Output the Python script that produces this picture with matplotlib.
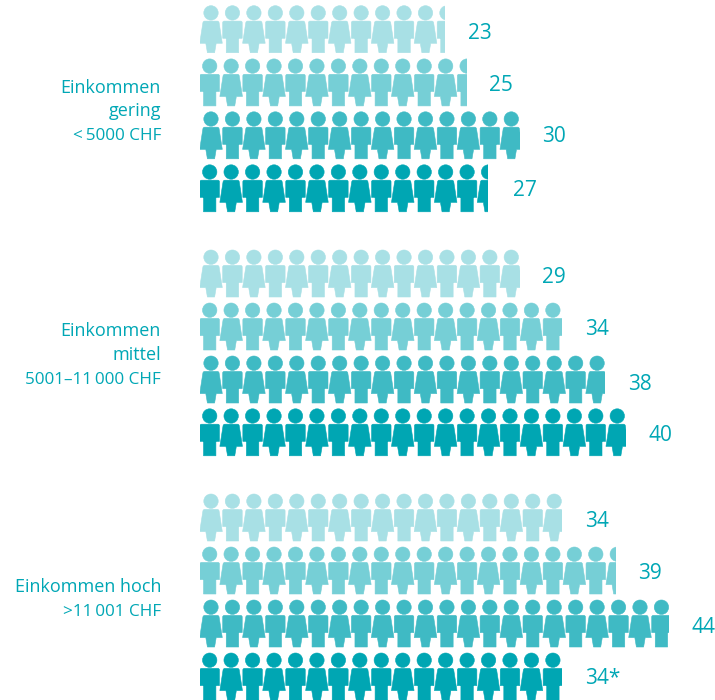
import math
import matplotlib
matplotlib.use("Agg")
import matplotlib.pyplot as plt
import numpy as np
from matplotlib.patches import PathPatch, Rectangle
from matplotlib.path import Path

# row values, 4 rows per income group. one icon = 2
group_labels = [
    ["Einkommen", "gering", "<\u20095000 CHF"],
    ["Einkommen", "mittel", "5001\u201311\u2009000 CHF"],
    ["Einkommen hoch", ">11\u2009001 CHF"],
]
value_labels = ["23", "25", "30", "27", "29", "34", "38", "40", "34", "39", "44", "34*"]
# length the row is really drawn to (the 29 row is drawn as long as a 30 row)
drawn_values = [23, 25, 30, 27, 30, 34, 38, 40, 34, 39, 44, 34]

# layout in pixels of the 715x700 picture
row_tops = [5.7, 58.9, 111.8, 164.8, 250, 303, 356, 408.8, 494, 547, 600, 653]
label_y = [31, 83.3, 134, 188.7, 275, 327.7, 382, 433, 519, 571.7, 625, 676.7]
group_baselines = [[92.7, 116.5, 139.5], [336, 360, 384], [592.3, 615.7]]
row_colors = ["#A8E0E5", "#76CFD6", "#3FBAC4", "#00A6B3"]
text_color = "#00A7B5"

PX_PER_UNIT = 10.66
LEFT = 200
PITCH = 21.45

plt.rcParams['font.family'] = ['Open Sans', 'DejaVu Sans']


def body(x_w, y0, y1, r=1.6):
    return Path(
        [(-x_w + r, y0), (x_w - r, y0), (x_w, y0), (x_w, y0 + r), (x_w, y1), (-x_w, y1),
         (-x_w, y0 + r), (-x_w, y0), (-x_w + r, y0), (-x_w + r, y0)],
        [Path.MOVETO, Path.LINETO, Path.CURVE3, Path.CURVE3, Path.LINETO, Path.LINETO,
         Path.LINETO, Path.CURVE3, Path.CURVE3, Path.CLOSEPOLY])


def head():
    c = Path.unit_circle()
    return Path(c.vertices * 7.2 + np.array([0, 7.2]), c.codes)


man_path = Path.make_compound_path(
    head(),
    body(9.75, 15.4, 32.6),
    Path([(-6.2, 32), (6.2, 32), (6.2, 47), (-6.2, 47), (-6.2, 32)],
         [Path.MOVETO, Path.LINETO, Path.LINETO, Path.LINETO, Path.CLOSEPOLY]),
)
woman_path = Path.make_compound_path(
    head(),
    Path([(-6.4, 15.4), (6.4, 15.4), (7.8, 15.4), (8.1, 17), (11.3, 37.6), (5.2, 37.6), (3.6, 47),
          (-3.6, 47), (-5.2, 37.6), (-11.3, 37.6), (-8.1, 17), (-7.8, 15.4), (-6.4, 15.4), (-6.4, 15.4)],
         [Path.MOVETO, Path.LINETO, Path.CURVE3, Path.CURVE3, Path.LINETO, Path.LINETO, Path.LINETO,
          Path.LINETO, Path.LINETO, Path.LINETO, Path.LINETO, Path.CURVE3, Path.CURVE3, Path.CLOSEPOLY]),
)


def place(shape, x, y):
    v = shape.vertices.copy()
    v[:, 0] = v[:, 0] / PX_PER_UNIT + x
    v[:, 1] = v[:, 1] + y
    return Path(v, shape.codes)


fig = plt.figure(figsize=(7.15, 7.0), dpi=100)
ax = fig.add_axes([0, 0, 1, 1])
ax.set_xlim(-LEFT / PX_PER_UNIT, (715 - LEFT) / PX_PER_UNIT)
ax.set_ylim(700, 0)
ax.axis("off")

for r in range(len(drawn_values)):
    value = drawn_values[r]
    top = row_tops[r]
    color = row_colors[r % 4]
    woman_first = r % 2 == 0
    start = 11.0 if woman_first else 9.7
    clip = Rectangle((0, top - 2), value, 52, transform=ax.transData)
    for i in range(math.ceil(value / 2) + 1):
        x = (start + i * PITCH) / PX_PER_UNIT
        is_woman = (i % 2 == 0) == woman_first
        shape = woman_path if is_woman else man_path
        patch = PathPatch(place(shape, x, top), facecolor=color, edgecolor=color, lw=0.4)
        ax.add_patch(patch)
        patch.set_clip_path(clip)

    nudge = 3 if value_labels[r] == "27" else 0
    ax.text(value + (22.5 + nudge) / PX_PER_UNIT, label_y[r] + 2.2, value_labels[r], color=text_color,
            fontsize=15, ha="left", va="center")

for lines, baselines in zip(group_labels, group_baselines):
    for line, y in zip(lines, baselines):
        # the lines with the CHF amount run a little narrower
        size = 12.3 if "CHF" in line else 13
        ax.text((161 - LEFT) / PX_PER_UNIT, y, line, color=text_color, fontsize=size,
                ha="right", va="baseline")

fig.savefig("out.png", dpi=100, facecolor="white")
